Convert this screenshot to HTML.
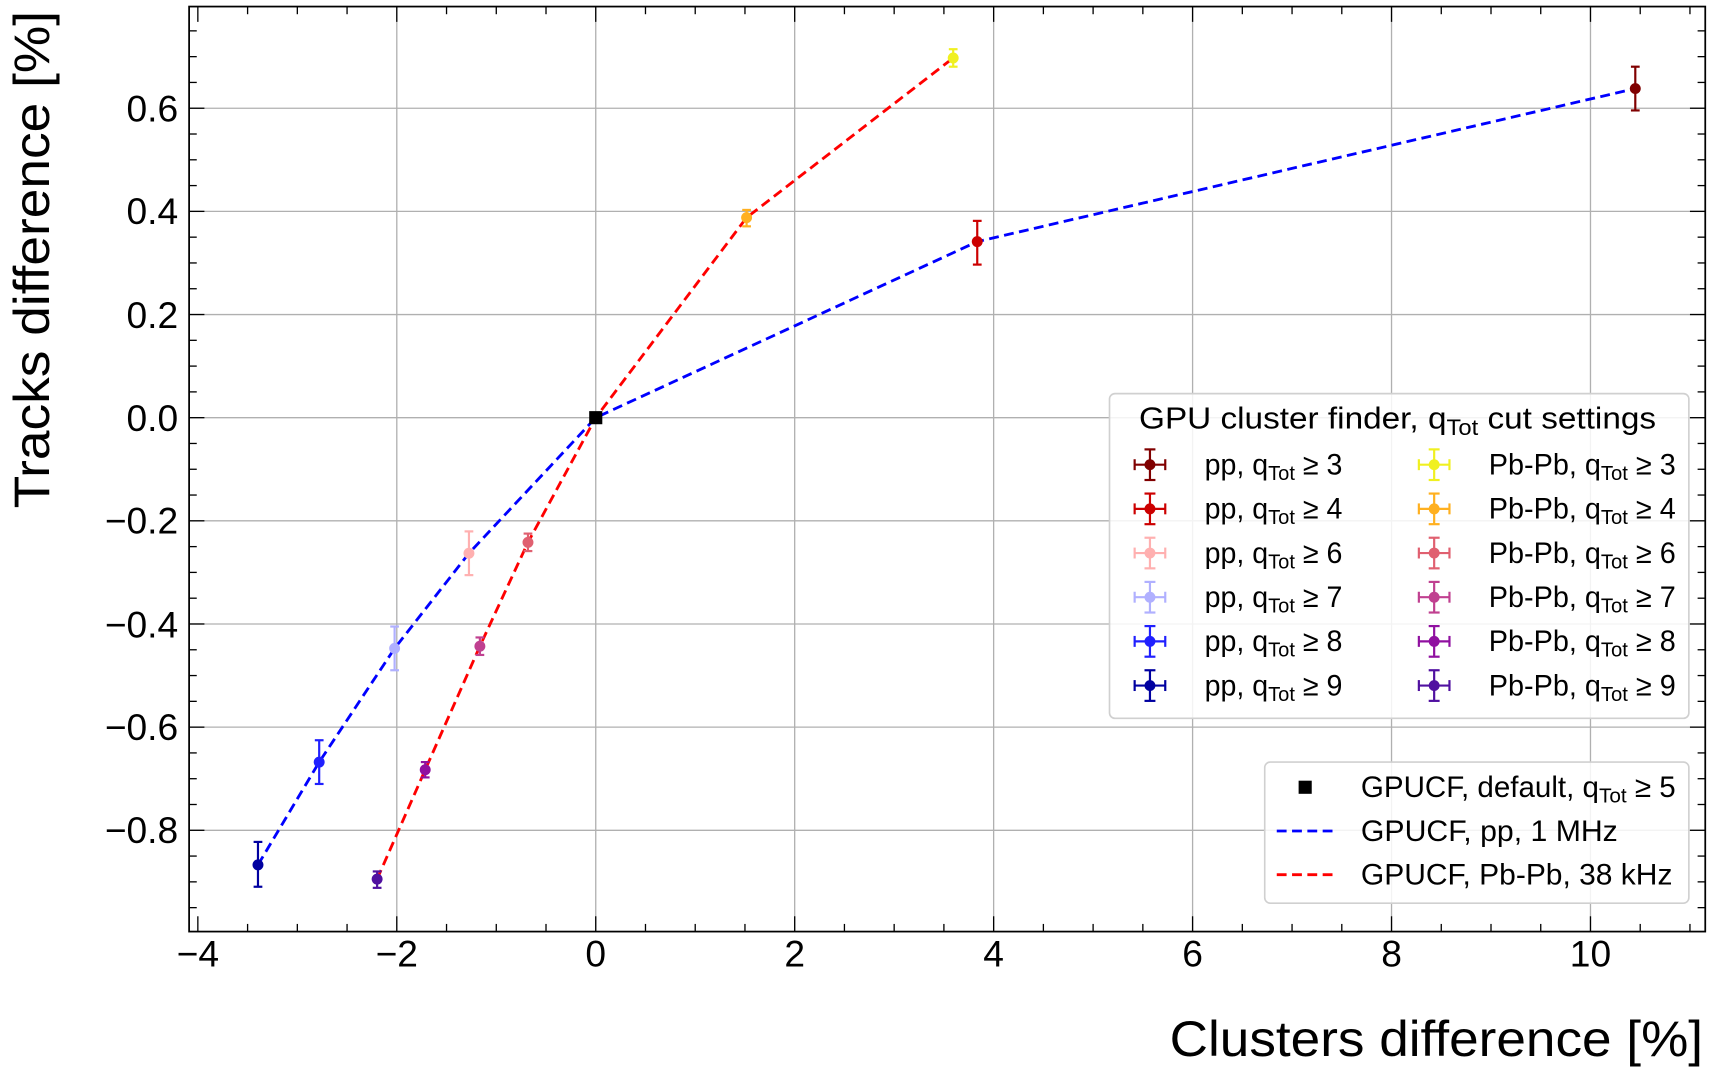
<!DOCTYPE html>
<html><head><meta charset="utf-8"><style>
html,body{margin:0;padding:0;background:#fff;}
svg{display:block;}
text{font-family:"Liberation Sans",sans-serif;fill:#000;}
</style></head><body>
<svg width="1714" height="1077" viewBox="0 0 1568 985" preserveAspectRatio="none" xmlns="http://www.w3.org/2000/svg">
<rect width="1568" height="985" fill="#fff"/>
<g stroke="#b0b0b0" stroke-width="1.2">
<line x1="363" y1="6" x2="363" y2="852"/><line x1="545" y1="6" x2="545" y2="852"/><line x1="727" y1="6" x2="727" y2="852"/><line x1="909" y1="6" x2="909" y2="852"/><line x1="1091" y1="6" x2="1091" y2="852"/><line x1="1273" y1="6" x2="1273" y2="852"/><line x1="1455" y1="6" x2="1455" y2="852"/>
<line x1="173" y1="99" x2="1560" y2="99"/><line x1="173" y1="193.3" x2="1560" y2="193.3"/><line x1="173" y1="287.7" x2="1560" y2="287.7"/><line x1="173" y1="382" x2="1560" y2="382"/><line x1="173" y1="476.3" x2="1560" y2="476.3"/><line x1="173" y1="570.7" x2="1560" y2="570.7"/><line x1="173" y1="665" x2="1560" y2="665"/><line x1="173" y1="759.4" x2="1560" y2="759.4"/>
</g>
<g id="ticks" stroke="#000" stroke-width="1.2"></g>
<polyline points="236,791 292,697 361,593 429,506 545,382 894,221 1496,81" fill="none" stroke="#0000ff" stroke-width="2.6" stroke-dasharray="9,5"/>
<polyline points="345,804 389,704 439,591 483,496 545,382 683,199 872,53" fill="none" stroke="#ff0000" stroke-width="2.6" stroke-dasharray="9,5"/>
<g id="pts" stroke-width="2"></g>
<rect x="539" y="376" width="12" height="12" fill="#000"/>
<rect x="173" y="6" width="1387" height="846" fill="none" stroke="#000" stroke-width="1.6"/>
<g font-size="34" text-anchor="middle">
<text x="181" y="884">−4</text><text x="363" y="884">−2</text><text x="545" y="884">0</text><text x="727" y="884">2</text><text x="909" y="884">4</text><text x="1091" y="884">6</text><text x="1273" y="884">8</text><text x="1455" y="884">10</text>
</g>
<g font-size="34" text-anchor="end">
<text x="163" y="111">0.6</text><text x="163" y="205">0.4</text><text x="163" y="300">0.2</text><text x="163" y="394">0.0</text><text x="163" y="488">−0.2</text><text x="163" y="583">−0.4</text><text x="163" y="677">−0.6</text><text x="163" y="771">−0.8</text>
</g>
<text x="1558" y="966" font-size="46" text-anchor="end" textLength="488" lengthAdjust="spacingAndGlyphs">Clusters difference [%]</text>
<text transform="translate(45,465) rotate(-90)" font-size="46" textLength="455" lengthAdjust="spacingAndGlyphs">Tracks difference [%]</text>
<rect x="1015" y="360" width="530" height="297" rx="5" fill="#fff" fill-opacity="0.85" stroke="#d0d0d0" stroke-width="1.5"/>
<text x="1042" y="392" font-size="28" textLength="473" lengthAdjust="spacingAndGlyphs">GPU cluster finder, q<tspan font-size="20" dy="6">Tot</tspan><tspan dy="-6"> cut settings</tspan></text>
<g id="leg" font-size="27"></g>
<rect x="1157" y="697" width="388" height="129" rx="5" fill="#fff" fill-opacity="0.85" stroke="#d0d0d0" stroke-width="1.5"/>
<rect x="1188" y="714" width="12" height="12" fill="#000"/>
<line x1="1168" y1="760" x2="1222" y2="760" stroke="#0000ff" stroke-width="2.6" stroke-dasharray="9,5"/>
<line x1="1168" y1="800" x2="1222" y2="800" stroke="#ff0000" stroke-width="2.6" stroke-dasharray="9,5"/>
<g font-size="27">
<text x="1245" y="729" textLength="288" lengthAdjust="spacingAndGlyphs">GPUCF, default, q<tspan font-size="19" dy="5">Tot</tspan><tspan dy="-5"> ≥ 5</tspan></text>
<text x="1245" y="769" textLength="235" lengthAdjust="spacingAndGlyphs">GPUCF, pp, 1 MHz</text>
<text x="1245" y="809" textLength="285" lengthAdjust="spacingAndGlyphs">GPUCF, Pb-Pb, 38 kHz</text>
</g>
</svg>
<script>
var NS="http://www.w3.org/2000/svg";
function el(p,t,a,txt){var e=document.createElementNS(NS,t);for(var k in a)e.setAttribute(k,a[k]);if(txt)e.textContent=txt;p.appendChild(e);return e;}
var tk=document.getElementById('ticks');
for(var v=-4;v<=11.01;v+=0.5){var x=545+91*v;if(x<174||x>1559)continue;var maj=Math.abs(v%2)<1e-6;var L=maj?14:7;
el(tk,'line',{x1:x,y1:852,x2:x,y2:852-L});el(tk,'line',{x1:x,y1:6,x2:x,y2:6+L});}
for(var i=-19;i<=15;i++){var v=i*0.05;var y=382-471.7*v;if(y<7||y>851)continue;var maj=(i%4===0);var L=maj?14:7;
el(tk,'line',{x1:173,y1:y,x2:173+L,y2:y});el(tk,'line',{x1:1560,y1:y,x2:1560-L,y2:y});}
var pts=document.getElementById('pts');
var data=[[236,791,770,811,'#0000a0'],[292,697,677,717,'#2020ff'],[361,593,573,613,'#b0b0ff'],[429,506,486,526,'#ffb0b0'],[894,221,202,242,'#cc0000'],[1496,81,61,101,'#800000'],
[345,804,797,812,'#5010a0'],[389,704,697,711,'#9010a0'],[439,591,583,599,'#c04090'],[483,496,488,504,'#e06070'],[683,199,192,207,'#ffb020'],[872,53,45,61,'#f0f020']];
data.forEach(function(d){el(pts,'line',{x1:d[0],y1:d[2],x2:d[0],y2:d[3],stroke:d[4]});el(pts,'line',{x1:d[0]-4,y1:d[2],x2:d[0]+4,y2:d[2],stroke:d[4]});el(pts,'line',{x1:d[0]-4,y1:d[3],x2:d[0]+4,y2:d[3],stroke:d[4]});el(pts,'circle',{cx:d[0],cy:d[1],r:5,fill:d[4],stroke:'none'});});
var leg=document.getElementById('leg');
var c1=['#800000','#cc0000','#ffb0b0','#b0b0ff','#2020ff','#0000a0'],c2=['#f0f020','#ffb020','#e06070','#c04090','#9010a0','#5010a0'],n=['3','4','6','7','8','9'];
for(var i=0;i<6;i++){var y=425+40.4*i;
[[1052,c1[i],1102,'pp, ',126],[1312,c2[i],1362,'Pb-Pb, ',171]].forEach(function(s){var x=s[0],c=s[1];
el(leg,'line',{x1:x-14,y1:y,x2:x+14,y2:y,stroke:c,'stroke-width':2});el(leg,'line',{x1:x-14,y1:y-5,x2:x-14,y2:y+5,stroke:c,'stroke-width':2});el(leg,'line',{x1:x+14,y1:y-5,x2:x+14,y2:y+5,stroke:c,'stroke-width':2});
el(leg,'line',{x1:x,y1:y-14,x2:x,y2:y+14,stroke:c,'stroke-width':2});el(leg,'line',{x1:x-5,y1:y-14,x2:x+5,y2:y-14,stroke:c,'stroke-width':2});el(leg,'line',{x1:x-5,y1:y+14,x2:x+5,y2:y+14,stroke:c,'stroke-width':2});
el(leg,'circle',{cx:x,cy:y,r:5,fill:c});
var t=el(leg,'text',{x:s[2],y:y+9,textLength:s[4],lengthAdjust:'spacingAndGlyphs'},s[3]+'q');el(t,'tspan',{'font-size':19,dy:5},'Tot');el(t,'tspan',{dy:-5},' ≥ '+n[i]);});}
</script>
</body></html>
